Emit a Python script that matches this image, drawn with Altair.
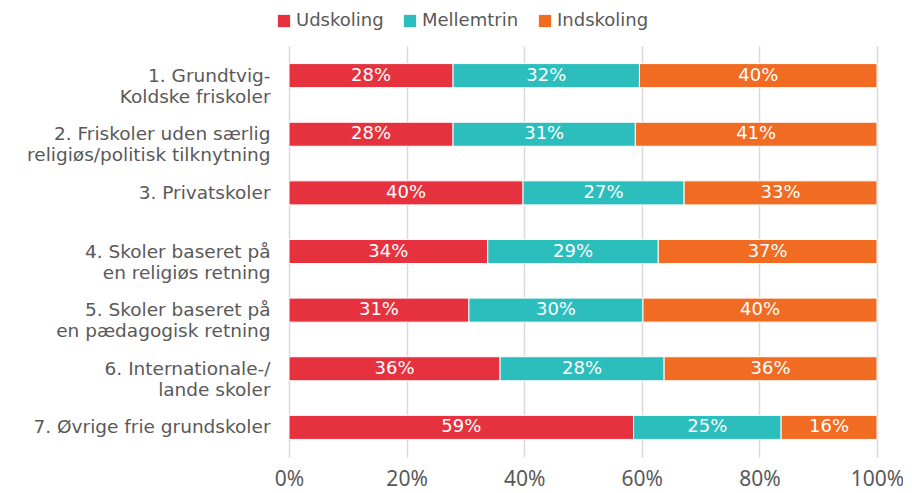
import altair as alt
import pandas as pd

categories = [
    "1. Grundtvig-|Koldske friskoler",
    "2. Friskoler uden særlig|religiøs/politisk tilknytning",
    "3. Privatskoler",
    "4. Skoler baseret på|en religiøs retning",
    "5. Skoler baseret på|en pædagogisk retning",
    "6. Internationale-/|lande skoler",
    "7. Øvrige frie grundskoler",
]
series = ["Udskoling", "Mellemtrin", "Indskoling"]
udskoling = [27.9, 27.9, 39.8, 33.8, 30.6, 35.9, 58.6]
mellemtrin = [31.7, 31.0, 27.4, 29.0, 29.6, 27.9, 25.1]
indskoling = [40.4, 41.1, 32.8, 37.2, 39.8, 36.2, 16.3]
colors = ["#E5323E", "#2BBEBD", "#F26B22"]
x_ticks = [0, 20, 40, 60, 80, 100]

rows = []
for i, c in enumerate(categories):
    for j, (s, vals) in enumerate(zip(series, [udskoling, mellemtrin, indskoling])):
        rows.append({"cat": c, "series": s, "order": j, "value": vals[i]})
df = pd.DataFrame(rows)

base = alt.Chart(df).transform_stack(
    stack="value", groupby=["cat"], sort=[alt.SortField("order")],
    as_=["x0", "x1"], offset="zero"
).transform_calculate(mid="(datum.x0 + datum.x1) / 2")

y_enc = alt.Y(
    "cat:N", sort=categories, title=None,
    scale=alt.Scale(paddingInner=0.59, paddingOuter=0.3),
    axis=alt.Axis(
        labelExpr="split(datum.label, '|')", labelFont="DejaVu Sans",
        labelFontSize=18.5, labelColor="#595959", labelLineHeight=21,
        labelPadding=19, ticks=False, domain=False, labelLimit=300,
    ),
)

bars = base.mark_bar(stroke="white", strokeWidth=1).encode(
    y=y_enc,
    x=alt.X(
        "x0:Q", title=None,
        scale=alt.Scale(domain=[0, 100], nice=False),
        axis=alt.Axis(
            values=x_ticks, labelExpr="datum.value + '%'", labelFont="Noto Sans",
            labelFontSize=21, labelColor="#595959", labelPadding=11,
            labelFlush=False, labelOverlap=False,
            ticks=False, domain=False, gridColor="#D9D9D9", gridWidth=1.5,
        ),
    ),
    x2="x1:Q",
    color=alt.Color(
        "series:N", sort=series,
        scale=alt.Scale(domain=series, range=colors),
        legend=alt.Legend(
            title=None, orient="none", direction="horizontal", legendX=-14, legendY=-34,
            symbolType="square", symbolSize=150, symbolStrokeWidth=0,
            labelFont="DejaVu Sans", labelFontSize=18, labelColor="#595959",
            labelOffset=3, columnPadding=17,
        ),
    ),
)

texts = base.mark_text(color="white", font="DejaVu Sans", fontSize=18).encode(
    y=alt.Y("cat:N", sort=categories),
    x=alt.X("mid:Q"),
    text=alt.Text("label:N"),
).transform_calculate(label="format(datum.value, '.0f') + '%'")

chart = (bars + texts).properties(
    width=588, height=411,
    padding={"left": 281, "top": 38, "right": 26, "bottom": 36},
    autosize=alt.AutoSizeParams(type="none"),
).configure_view(stroke=None).configure_axis(grid=True).configure_axisY(grid=False)

chart.save("out.html", embed_options={"renderer": "svg", "actions": False})
